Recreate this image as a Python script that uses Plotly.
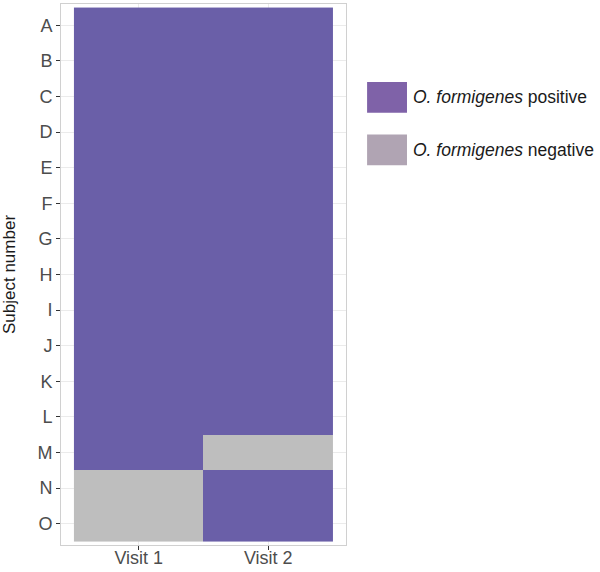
import plotly.graph_objects as go

# data
visits = ["Visit 1", "Visit 2"]
subjects = list("ABCDEFGHIJKLMNO")
# 1 = O. formigenes positive, 0 = negative
visit1 = [1, 1, 1, 1, 1, 1, 1, 1, 1, 1, 1, 1, 1, 0, 0]
visit2 = [1, 1, 1, 1, 1, 1, 1, 1, 1, 1, 1, 1, 0, 1, 1]
legend_labels = ["<i>O. formigenes</i> positive", "<i>O. formigenes</i> negative"]

pos_col = "#6a5fa8"
neg_col = "#bebebe"
legend_cols = ["#7f62a8", "#b0a4b3"]

z = [[a, b] for a, b in zip(visit1, visit2)]

fig = go.Figure()
fig.add_trace(go.Heatmap(
    x=visits, y=subjects, z=z, zmin=0, zmax=1,
    colorscale=[[0, neg_col], [0.5, neg_col], [0.5, pos_col], [1, pos_col]],
    showscale=False, hoverinfo="x+y+z"))

# legend drawn by hand (swatch + label)
for i, (lab, col) in enumerate(zip(legend_labels, legend_cols)):
    y1 = 0.856 - i * 0.097
    fig.add_shape(type="rect", xref="paper", yref="paper",
                  x0=1.074, x1=1.214, y0=y1 - 0.057, y1=y1,
                  fillcolor=col, line_width=0)
    fig.add_annotation(xref="paper", yref="paper", x=1.228, y=y1 - 0.0285,
                       text=lab, showarrow=False, xanchor="left", yanchor="middle",
                       font=dict(size=17.5, color="#1a1a1a"))

fig.update_xaxes(range=[-0.6, 1.6], showgrid=True, gridcolor="#ebebeb",
                 showline=True, mirror=True, linecolor="#d0d0d0", linewidth=1,
                 ticks="outside", ticklen=4, tickcolor="#333333", automargin=False,
                 ticklabelstandoff=-8,
                 tickfont=dict(size=18, color="#4d4d4d"), zeroline=False)
fig.update_yaxes(categoryorder="array", categoryarray=subjects,
                 range=[14.6, -0.6], showgrid=True, gridcolor="#ebebeb",
                 showline=True, mirror=True, linecolor="#d0d0d0", linewidth=1,
                 ticks="outside", ticklen=4, tickcolor="#333333", automargin=False,
                 tickfont=dict(size=18, color="#4d4d4d"), zeroline=False,
                 title=dict(text="Subject number", font=dict(size=17, color="#1a1a1a"),
                            standoff=17))

fig.update_layout(width=600, height=572,
                  margin=dict(l=61, r=254, t=4, b=27, autoexpand=False),
                  plot_bgcolor="white", paper_bgcolor="white",
                  font=dict(family="Liberation Sans, Arial, sans-serif"),
                  showlegend=False)

fig.write_html("out.html", config={"displayModeBar": False},
               post_script="document.body.style.margin='0';")
